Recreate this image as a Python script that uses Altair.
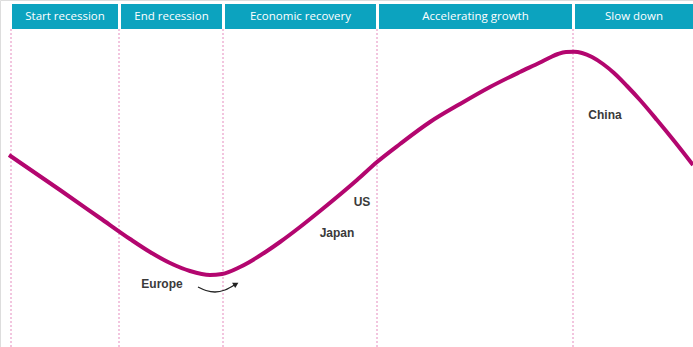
import altair as alt
import pandas as pd

# Phases of the economic cycle (schematic x units, 0-693)
phases = ["Start recession", "End recession", "Economic recovery", "Accelerating growth", "Slow down"]
phase_start = [12, 121, 225, 379, 575]
phase_end = [118, 222, 376, 572, 693]
dividers = [11, 119, 223, 377, 573]

# Cycle curve (schematic units, y measured downward from top)
curve_x = [9, 60, 100, 130, 150, 170, 190, 210, 222, 240, 267, 280, 300, 320, 357, 377,
           400, 430, 460, 490, 520, 540, 550, 558, 566, 574, 582, 592, 603, 614, 627, 640, 657, 675, 693]
curve_y = [155, 190, 218, 239, 252, 263, 271, 275, 274, 267, 251, 242, 227, 211, 180, 162,
           144, 122, 104, 87, 72, 62.5, 57.5, 54, 52, 51.8, 53, 57, 64, 73, 86, 100, 120, 142, 165]

# Region labels
labels = ["Europe", "Japan", "US", "China"]
label_x = [162, 337, 362, 605]
label_y = [284, 233, 202, 115]

# Arrow near Europe
arrow_x = [198, 206, 215, 225, 236]
arrow_y = [287, 290.5, 292, 290, 284]

W, H = 693, 347
xs = alt.Scale(domain=[0, W], nice=False, zero=False)
ys = alt.Scale(domain=[0, H], nice=False, zero=False, reverse=True)
noax = None

ph = pd.DataFrame({"phase": phases, "x0": phase_start, "x1": phase_end,
                   "xc": [(a + b) / 2 for a, b in zip(phase_start, phase_end)],
                   "y0": [4] * 5, "y1": [29] * 5, "yc": [17] * 5})
dv = pd.DataFrame({"x": dividers, "y0": [29] * 5, "y1": [H] * 5})
cv = pd.DataFrame({"x": curve_x, "y": curve_y})
lb = pd.DataFrame({"label": labels, "x": label_x, "y": label_y})
ar = pd.DataFrame({"x": arrow_x, "y": arrow_y})
ah = pd.DataFrame({"x": [arrow_x[-1]], "y": [arrow_y[-1]]})

rules = alt.Chart(dv).mark_rule(color="#E58BBE", strokeDash=[2, 2], strokeWidth=1).encode(
    x=alt.X("x:Q", scale=xs, axis=noax), y=alt.Y("y0:Q", scale=ys, axis=noax), y2="y1:Q")

boxes = alt.Chart(ph).mark_rect(color="#0CA3BF").encode(
    x=alt.X("x0:Q", scale=xs, axis=noax), x2="x1:Q",
    y=alt.Y("y0:Q", scale=ys, axis=noax), y2="y1:Q")

htext = alt.Chart(ph).mark_text(color="white", font="Open Sans", fontSize=11.5,
                                align="center", baseline="middle").encode(
    x=alt.X("xc:Q", scale=xs, axis=noax), y=alt.Y("yc:Q", scale=ys, axis=noax), text="phase:N")

curve = alt.Chart(cv).mark_line(color="#B3066F", strokeWidth=4, interpolate="monotone").encode(
    x=alt.X("x:Q", scale=xs, axis=noax), y=alt.Y("y:Q", scale=ys, axis=noax))

ltext = alt.Chart(lb).mark_text(color="#3A3A3A", font="Liberation Sans", fontWeight="bold",
                                fontSize=12, align="center", baseline="middle").encode(
    x=alt.X("x:Q", scale=xs, axis=noax), y=alt.Y("y:Q", scale=ys, axis=noax), text="label:N")

arrow = alt.Chart(ar).mark_line(color="#222222", strokeWidth=1.3, interpolate="monotone").encode(
    x=alt.X("x:Q", scale=xs, axis=noax), y=alt.Y("y:Q", scale=ys, axis=noax))

head = alt.Chart(ah).mark_point(shape="triangle-right", filled=True, color="#222222",
                                size=40, angle=330, opacity=1).encode(
    x=alt.X("x:Q", scale=xs, axis=noax), y=alt.Y("y:Q", scale=ys, axis=noax))

chart = alt.layer(rules, boxes, htext, curve, ltext, arrow, head).properties(
    width=W, height=H, padding=0, autosize=alt.AutoSizeParams(type="none")
).configure_view(stroke=None).configure(background="white")

chart.save("out.html", embed_options={"renderer": "svg", "actions": False})
